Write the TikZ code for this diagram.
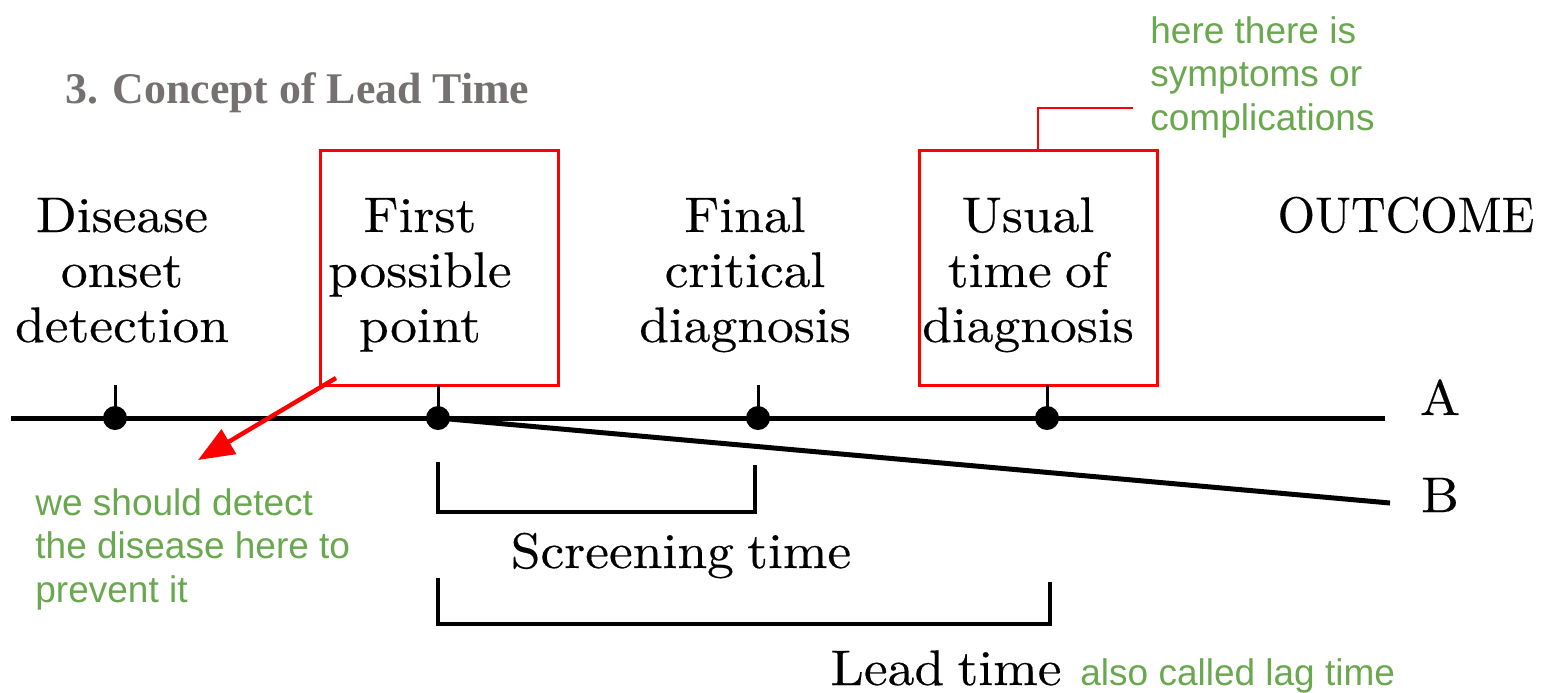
\documentclass[tikz,border=0pt]{standalone}
\usepackage{fontspec}
\newfontfamily\titlefont{Liberation Serif}
\newfontfamily\notefont{Liberation Sans}
\newfontfamily\diafont[FakeStretch=1.07,FakeBold=0.3,WordSpace=0.75]{lmroman10-regular.otf}
\newfontfamily\diafontn[FakeStretch=0.96,FakeBold=0.3]{lmroman10-regular.otf}
\usetikzlibrary{arrows.meta}
\definecolor{notegreen}{RGB}{106,168,79}
\definecolor{titlegray}{RGB}{118,113,113}
\definecolor{boxred}{RGB}{255,0,0}
\begin{document}
\begin{tikzpicture}[x=0.5pt,y=-0.5pt,
  lbl/.style={font=\diafont\fontsize{25}{27.5}\selectfont, align=center, inner sep=0pt, anchor=base},
  note/.style={font=\notefont\fontsize{18.5}{21.75}\selectfont, text=notegreen, align=left, inner sep=0pt, anchor=base west},
  axis/.style={line width=2.5pt},
  bracket/.style={line width=2pt},
  tickmark/.style={line width=1.5pt},
  dot/.style={circle, fill=black, inner sep=0pt, minimum size=12pt},
  redbox/.style={draw=boxred, line width=1.5pt, minimum width=119pt, minimum height=117.5pt, inner sep=0pt},
  callout/.style={draw=boxred, line width=0.7pt},
  redarrow/.style={draw=boxred, line width=2.2pt, -{Triangle[length=18pt,width=14pt]}}
]
\useasboundingbox (0,0) rectangle (1541,692);
% title
\node[font=\titlefont\bfseries\fontsize{21.9}{26}\selectfont, text=titlegray, inner sep=0pt, anchor=base west] (title) at (65,103) {3. Concept of Lead Time};
% red boxes
\node[redbox] (box1) at (439,267.5) {};
\node[redbox] (box2) at (1038,267.5) {};
% labels (anchor base = baseline of the last line)
\node[lbl] (onset) at (122,342) {Disease\\onset\\detection};
\node[lbl] (first) at (420,342) {First\\possible\\point};
\node[lbl] (final) at (745,342) {Final\\critical\\diagnosis};
\node[lbl] (usual) at (1028,342) {Usual\\time of\\diagnosis};
\node[lbl, font=\diafontn\fontsize{25}{27.5}\selectfont] (outcome) at (1406,232) {OUTCOME};
\node[lbl] (labA) at (1440,415) {A};
\node[lbl] (labB) at (1440,512) {B};
\node[lbl] (scr) at (681,568) {Screening time};
\node[lbl] (lead) at (946,685) {Lead time};
% time lines
\coordinate (Astart) at (11,418);
\coordinate (Aend) at (1385,418);
\coordinate (Bend) at (1390,503);
\draw[axis] (Astart) -- (Aend);
\node[dot] (d1) at (115,418) {};
\node[dot] (d2) at (438,418) {};
\node[dot] (d3) at (758,418) {};
\node[dot] (d4) at (1047,418) {};
\draw[axis] (d2.center) -- (Bend);
\foreach \d in {d1,d2,d3,d4} \draw[tickmark] (\d.center) -- ++(0,-33);
% brackets
\coordinate (s1) at (438,462);
\coordinate (s2) at (755,512);
\coordinate (s3) at (755,465);
\draw[bracket] (s1) |- (s2) -- (s3);
\coordinate (l1) at (438,578);
\coordinate (l2) at (1050,624);
\coordinate (l3) at (1050,582);
\draw[bracket] (l1) |- (l2) -- (l3);
% notes
\node[note] (n1) at (1150,130) {here there is\\symptoms or\\complications};
\coordinate (cE) at (1133,108);
\draw[callout] (box2.north) |- (cE);
\node[note] (n2) at (35,602) {we should detect\\the disease here to\\prevent it};
\coordinate (aS) at (336,378);
\coordinate (aE) at (198,460);
\draw[redarrow] (aS) -- (aE);
\node[note] (n3) at (1080,685) {also called lag time};
\end{tikzpicture}
\end{document}
